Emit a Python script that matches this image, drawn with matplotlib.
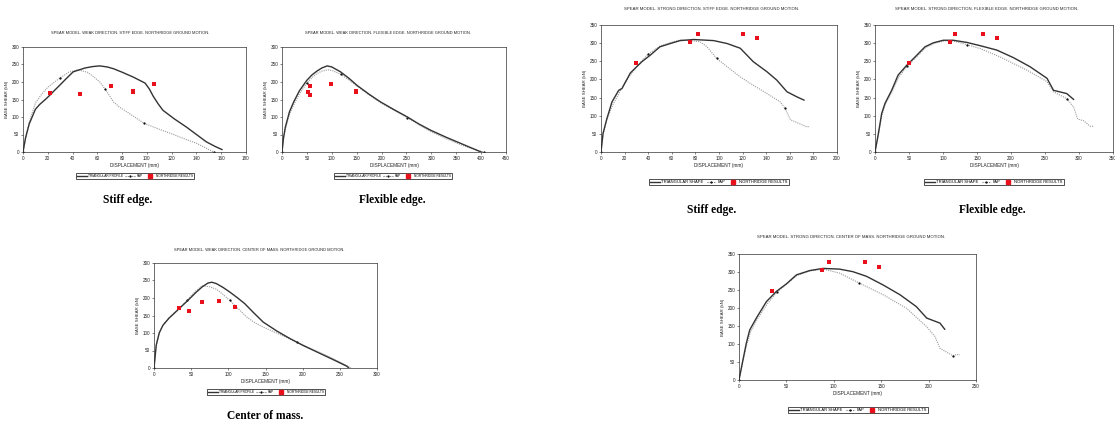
import matplotlib
matplotlib.use("Agg")
import matplotlib.pyplot as plt
from matplotlib.lines import Line2D

plt.rcParams['font.family'] = ['Liberation Sans', 'DejaVu Sans']

# ---------------- DATA ----------------
# Weak direction, stiff edge
w_stiff_tri_x = [0, 2, 5, 10, 13.5, 18, 21.6, 26, 30, 35, 40.5, 50, 56, 62, 68, 73, 80, 89, 98.5, 102, 105, 109, 113, 122, 132, 140, 148, 155, 160.6]
w_stiff_tri_y = [0, 40, 80, 122, 136, 150, 162, 178, 192, 210, 229, 240, 244, 246, 243, 238, 228, 214, 197, 180, 160, 138, 119, 95, 71, 50, 29, 16, 7]
w_stiff_fap_x = [0, 2, 5, 10, 15, 20, 30, 37, 44, 52, 57, 62, 66, 70, 73, 78, 85, 90, 97.7, 110, 120, 130, 140, 150, 154]
w_stiff_fap_y = [0, 35, 85, 140, 165, 185, 212, 228, 235, 228, 215, 200, 181, 160, 143, 128, 112, 100, 82, 65, 52, 38, 25, 7, 0]
w_stiff_nr_x = [22, 46, 71, 89, 89, 106]
w_stiff_nr_y = [170, 165, 190, 175, 172, 193]

# Weak direction, flexible edge
w_flex_tri_x = [0, 3, 6.7, 15, 23.5, 35, 50, 60, 70, 80, 90.7, 100, 117.6, 135, 151, 175, 198, 225, 252, 275, 299, 330, 360, 380, 400]
w_flex_tri_y = [0, 40, 71, 115, 143, 175, 205, 220, 231, 240, 246, 243, 229, 210, 190, 165, 143, 121, 100, 80, 62, 42, 24, 12, 0]
w_flex_fap_x = [0, 3, 7, 15, 24, 35, 50, 60, 70, 80, 92, 102, 118, 135, 151, 175, 198, 225, 252, 275, 299, 330, 360, 385, 405]
w_flex_fap_y = [0, 36, 66, 108, 136, 166, 197, 212, 224, 231, 235, 232, 222, 205, 188, 163, 141, 119, 98, 78, 58, 38, 20, 8, 0]
w_flex_nr_x = [51.7, 57, 57, 98.8, 148, 148]
w_flex_nr_y = [171, 164, 189, 193, 175, 172]

# Weak direction, center of mass
w_cm_tri_x = [0, 3, 7, 12, 20, 34.6, 45, 57, 65, 72.8, 78, 84, 93, 102, 112, 122, 134, 147, 165, 183, 200, 219, 240, 259.5, 262]
w_cm_tri_y = [0, 65, 100, 122, 142, 171, 192, 217, 232, 243, 245, 241, 230, 217, 201, 184, 158, 131, 106, 84, 65, 46, 25, 5, 0]
w_cm_fap_x = [0, 3, 7, 12, 20, 34.6, 45, 55, 65, 75, 84, 93, 102, 113, 124.6, 135, 147, 170, 192, 215, 237, 255, 265]
w_cm_fap_y = [0, 65, 100, 122, 143, 172, 194, 218, 235, 232, 225, 210, 193, 170, 146, 130, 117, 95, 74, 52, 31, 12, 0]
w_cm_nr_x = [33.7, 46.8, 64.7, 86.8, 109]
w_cm_nr_y = [171, 164, 189, 192, 174]

# Strong direction, stiff edge
s_stiff_tri_x = [0, 1.7, 5, 9.3, 15, 17.8, 24.9, 34.7, 41.8, 50, 58.8, 67, 78.5, 95.5, 106.8, 118, 129, 140.7, 149, 157.6, 166, 172]
s_stiff_tri_y = [0, 51, 92, 138, 170, 175, 218, 249, 267, 290, 299, 307, 310, 307, 299, 286, 249, 221, 198, 166, 152, 143]
s_stiff_fap_x = [0, 2, 5, 10, 20, 30, 40, 50, 60, 68, 84, 89.8, 98, 106.8, 118, 129, 140.7, 152, 156, 160.5, 174.6, 177]
s_stiff_fap_y = [0, 50, 90, 130, 190, 235, 270, 292, 303, 309, 304, 290, 258, 235, 207, 184, 161, 138, 120, 89, 69, 71]
s_stiff_nr_x = [30, 75.7, 82, 120, 132]
s_stiff_nr_y = [246, 304, 324, 324, 313]

# Strong direction, flexible edge
s_flex_tri_x = [0, 5, 9.8, 14.7, 24.5, 34, 46.6, 59, 73.6, 86, 100.6, 115, 135, 154.6, 179, 203.6, 228, 253, 262.5, 282, 292]
s_flex_tri_y = [0, 51, 106, 134, 170, 212, 239, 262, 290, 301, 308, 308, 302, 293, 281, 260, 235, 203, 170, 161, 145]
s_flex_fap_x = [0, 5, 10, 15, 25, 35, 47, 60, 74, 86, 101, 115, 135, 154.6, 184, 223, 253, 262.5, 282, 292, 298, 306.7, 316.5, 321]
s_flex_fap_y = [0, 48, 100, 130, 166, 206, 236, 260, 287, 299, 306, 306, 296, 285, 262, 226, 194, 166, 147, 124, 91, 86, 71, 71]
s_flex_nr_x = [50, 111, 117.8, 158.5, 179]
s_flex_nr_y = [244, 304, 324, 324, 313]

# Strong direction, center of mass
s_cm_tri_x = [0, 4.2, 7.7, 11.3, 18.3, 29, 39.4, 50, 60.6, 74.6, 88.7, 106, 120, 134.5, 152, 169.7, 187, 198, 212, 217]
s_cm_tri_y = [0, 56, 102, 139, 172, 218, 246, 267, 292, 304, 310, 308, 301, 288, 264, 237, 204, 172, 158, 141]
s_cm_fap_x = [0, 4, 8, 12, 19, 30, 40, 50, 61, 75, 89, 106, 127, 152, 176.8, 198, 206.7, 212, 226, 229.6, 233]
s_cm_fap_y = [0, 52, 96, 132, 168, 212, 244, 266, 290, 303, 308, 297, 269, 237, 199, 148, 121, 88, 67, 71, 70]
s_cm_nr_x = [34.5, 88, 95, 133, 147.5]
s_cm_nr_y = [246, 306, 327, 327, 315]

titles = [
    "SPEAR MODEL. WEAK DIRECTION. STIFF EDGE. NORTHRIDGE GROUND MOTION.",
    "SPEAR MODEL. WEAK DIRECTION. FLEXIBLE EDGE. NORTHRIDGE GROUND MOTION.",
    "SPEAR MODEL. WEAK DIRECTION. CENTER OF MASS. NORTHRIDGE GROUND MOTION.",
    "SPEAR MODEL. STRONG DIRECTION. STIFF EDGE. NORTHRIDGE GROUND MOTION.",
    "SPEAR MODEL. STRONG DIRECTION. FLEXIBLE EDGE. NORTHRIDGE GROUND MOTION.",
    "SPEAR MODEL. STRONG DIRECTION. CENTER OF MASS. NORTHRIDGE GROUND MOTION.",
]
captions = ["Stiff edge.", "Flexible edge.", "Center of mass.", "Stiff edge.", "Flexible edge.", None]
tri_labels = ["TRIANGULAR PROFILE"] * 3 + ["TRIANGULAR SHAPE"] * 3
fap_label = "FAP"
nr_label = "NORTHRIDGE RESULTS"
x_label = "DISPLACEMENT (mm)"
y_label = "BASE SHEAR (kN)"

# --------------- LAYOUT (pixels) ---------------
W, H = 1115, 425
panels = [
    dict(box=(23, 246, 47, 152), xlim=(0, 180), xstep=20, ylim=(0, 300), data=(w_stiff_tri_x, w_stiff_tri_y, w_stiff_fap_x, w_stiff_fap_y, w_stiff_nr_x, w_stiff_nr_y),
         title=(130, 33), leg=(135, 176), cap=(128, 200), tfs=2.9, lfs=2.35, hl=3.0),
    dict(box=(282, 506, 47, 152), xlim=(0, 450), xstep=50, ylim=(0, 300), data=(w_flex_tri_x, w_flex_tri_y, w_flex_fap_x, w_flex_fap_y, w_flex_nr_x, w_flex_nr_y),
         title=(388, 33), leg=(393, 176), cap=(392, 200), tfs=2.9, lfs=2.35, hl=3.0),
    dict(box=(154, 377, 263, 368), xlim=(0, 300), xstep=50, ylim=(0, 300), data=(w_cm_tri_x, w_cm_tri_y, w_cm_fap_x, w_cm_fap_y, w_cm_nr_x, w_cm_nr_y),
         title=(259, 250), leg=(266, 392), cap=(265, 416), tfs=2.9, lfs=2.35, hl=3.0),
    dict(box=(601, 837, 25, 152), xlim=(0, 200), xstep=20, ylim=(0, 350), data=(s_stiff_tri_x, s_stiff_tri_y, s_stiff_fap_x, s_stiff_fap_y, s_stiff_nr_x, s_stiff_nr_y),
         title=(712, 9), leg=(719, 182), cap=(712, 210), tfs=3.05, lfs=2.95, hl=2.3),
    dict(box=(875, 1113, 25, 152), xlim=(0, 350), xstep=50, ylim=(0, 350), data=(s_flex_tri_x, s_flex_tri_y, s_flex_fap_x, s_flex_fap_y, s_flex_nr_x, s_flex_nr_y),
         title=(987, 9), leg=(994, 182), cap=(992, 210), tfs=3.05, lfs=2.95, hl=2.3),
    dict(box=(739, 976, 254, 380), xlim=(0, 250), xstep=50, ylim=(0, 350), data=(s_cm_tri_x, s_cm_tri_y, s_cm_fap_x, s_cm_fap_y, s_cm_nr_x, s_cm_nr_y),
         title=(851, 237), leg=(858, 410), cap=None, tfs=3.05, lfs=2.95, hl=2.3),
]

fig = plt.figure(figsize=(W / 100, H / 100), dpi=100)
fig.patch.set_facecolor('white')

for i, p in enumerate(panels):
    l, r, t, b = p['box']
    ax = fig.add_axes([l / W, (H - b) / H, (r - l) / W, (b - t) / H])
    tx, ty, fx, fy, nx, ny = p['data']
    ax.plot(fx, fy, color='#9a9a9a', lw=0.8, ls=(0, (1, 1)), zorder=2)
    ax.plot(fx, fy, ls='none', marker='.', ms=1.2, color='black', markevery=6, zorder=2)
    ax.plot(tx, ty, color='#333333', lw=1.0, zorder=3)
    ax.scatter(nx, ny, marker='s', s=5, color='#e8101a', zorder=4, linewidths=0)
    ax.set_xlim(*p['xlim'])
    ax.set_ylim(*p['ylim'])
    ax.set_xticks(range(p['xlim'][0], p['xlim'][1] + 1, p['xstep']))
    ax.set_yticks(range(0, p['ylim'][1] + 1, 50))
    ax.tick_params(labelsize=3.3, length=1.5, width=0.4, pad=1.2, colors='#222222')
    for s in ax.spines.values():
        s.set_linewidth(0.5)
        s.set_color('#333333')
    ax.set_xlabel(x_label, fontsize=3.4, labelpad=1.5, color='#222222')
    ax.set_ylabel(y_label, fontsize=3.2, labelpad=1.5, color='#222222')
    fig.text(p['title'][0] / W, (H - p['title'][1]) / H, titles[i], fontsize=p['tfs'],
             ha='center', va='center', color='#222222')
    handles = [
        Line2D([], [], color='#333333', lw=1.0),
        Line2D([], [], color='#777777', lw=0.8, ls=(0, (1, 1)), marker='.', ms=1.2, mfc='black', mec='black', markevery=[1]),
        Line2D([], [], ls='none', marker='s', ms=2.2, color='#e8101a'),
    ]
    leg = ax.legend(handles, [tri_labels[i], fap_label, nr_label], ncol=3, loc='center',
                    bbox_to_anchor=(p['leg'][0] / W, (H - p['leg'][1]) / H),
                    bbox_transform=fig.transFigure, fontsize=p['lfs'], frameon=True,
                    fancybox=False, handlelength=p['hl'], handletextpad=0.4,
                    columnspacing=0.7, borderpad=0.35, borderaxespad=0)
    leg.get_frame().set_edgecolor('black')
    leg.get_frame().set_linewidth(0.6)
    if p['cap']:
        fig.text(p['cap'][0] / W, (H - p['cap'][1]) / H, captions[i], fontsize=8.3,
                 family='Liberation Serif', weight='bold', ha='center', va='center')

fig.savefig('out.png', dpi=100, facecolor='white')
